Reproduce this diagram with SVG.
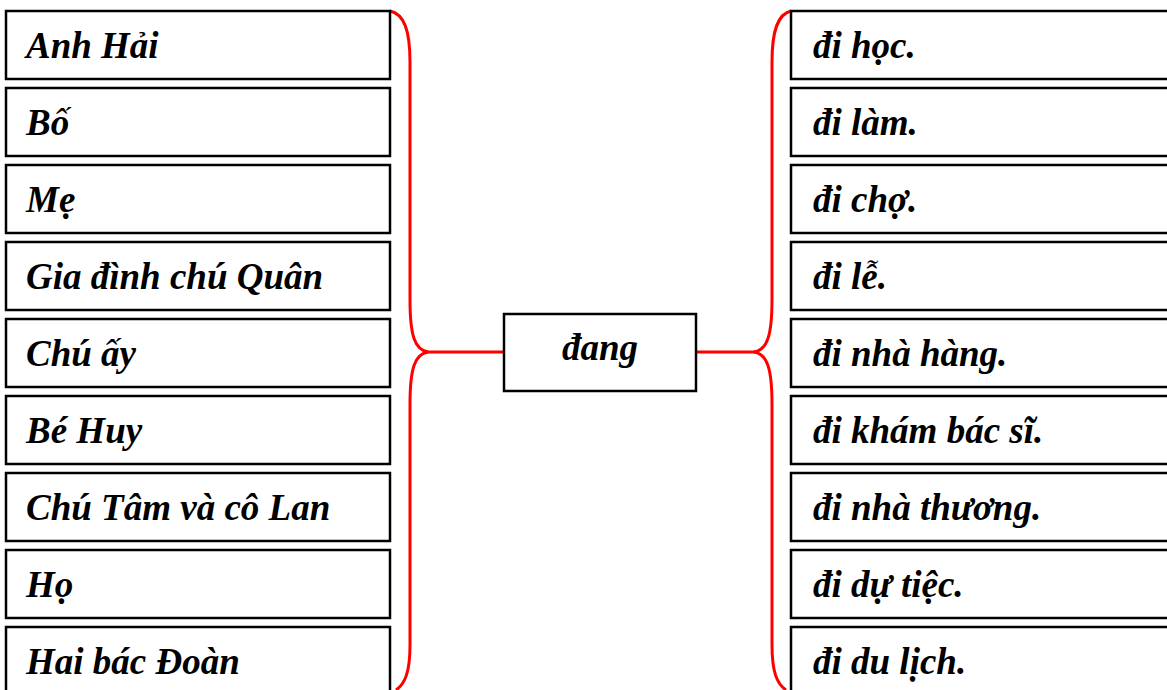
<svg xmlns="http://www.w3.org/2000/svg" width="1167" height="690" viewBox="0 0 1167 690">
<style>
.box{fill:#fff;stroke:#000;stroke-width:2.5}
.t{font-family:"Liberation Serif","Times New Roman",serif;font-weight:bold;font-style:italic;font-size:37px;fill:#000}
.br{fill:none;stroke:#f00;stroke-width:3}
</style>
<rect width="1167" height="690" fill="#fff"/>
<g id="connectors">
<path class="br" d="M390,11 C404,14 410,30 410,62 L410,300 C410,336 415,350 428,352 C415,354 410,368 410,404 L410,645 C410,672 405,684 396,690"/>
<path class="br" d="M791,11 C778,14 772,30 772,62 L772,300 C772,336 767,350 754,352 C767,354 772,368 772,404 L772,645 C772,672 777,684 786,690"/>
<line class="br" x1="427" y1="352" x2="504" y2="352"/>
<line class="br" x1="696" y1="352" x2="755" y2="352"/>
</g>
<g id="n1"><rect class="box" x="6" y="11" width="384" height="68"/><text class="t" x="26" y="58">Anh Hải</text></g>
<g id="n2"><rect class="box" x="6" y="88" width="384" height="68"/><text class="t" x="26" y="135">Bố</text></g>
<g id="n3"><rect class="box" x="6" y="165" width="384" height="68"/><text class="t" x="26" y="212">Mẹ</text></g>
<g id="n4"><rect class="box" x="6" y="242" width="384" height="68"/><text class="t" x="26" y="289">Gia đình chú Quân</text></g>
<g id="n5"><rect class="box" x="6" y="319" width="384" height="68"/><text class="t" x="26" y="366">Chú ấy</text></g>
<g id="n6"><rect class="box" x="6" y="396" width="384" height="68"/><text class="t" x="26" y="443">Bé Huy</text></g>
<g id="n7"><rect class="box" x="6" y="473" width="384" height="68"/><text class="t" x="26" y="520">Chú Tâm và cô Lan</text></g>
<g id="n8"><rect class="box" x="6" y="550" width="384" height="68"/><text class="t" x="26" y="597">Họ</text></g>
<g id="n9"><rect class="box" x="6" y="627" width="384" height="68"/><text class="t" x="26" y="674">Hai bác Đoàn</text></g>
<g id="center"><rect class="box" x="504" y="314" width="192" height="77"/><text class="t" x="600" y="360" text-anchor="middle">đang</text></g>
<g id="r1"><rect class="box" x="791" y="11" width="380" height="68"/><text class="t" x="813" y="58">đi học.</text></g>
<g id="r2"><rect class="box" x="791" y="88" width="380" height="68"/><text class="t" x="813" y="135">đi làm.</text></g>
<g id="r3"><rect class="box" x="791" y="165" width="380" height="68"/><text class="t" x="813" y="212">đi chợ.</text></g>
<g id="r4"><rect class="box" x="791" y="242" width="380" height="68"/><text class="t" x="813" y="289">đi lễ.</text></g>
<g id="r5"><rect class="box" x="791" y="319" width="380" height="68"/><text class="t" x="813" y="366">đi nhà hàng.</text></g>
<g id="r6"><rect class="box" x="791" y="396" width="380" height="68"/><text class="t" x="813" y="443">đi khám bác sĩ.</text></g>
<g id="r7"><rect class="box" x="791" y="473" width="380" height="68"/><text class="t" x="813" y="520">đi nhà thương.</text></g>
<g id="r8"><rect class="box" x="791" y="550" width="380" height="68"/><text class="t" x="813" y="597">đi dự tiệc.</text></g>
<g id="r9"><rect class="box" x="791" y="627" width="380" height="68"/><text class="t" x="813" y="674">đi du lịch.</text></g>
</svg>
